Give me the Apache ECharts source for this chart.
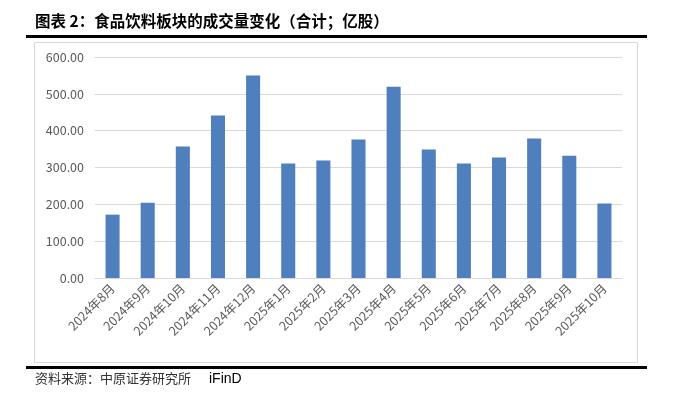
<!DOCTYPE html>
<html><head><meta charset="utf-8">
<script src="https://cdn.jsdelivr.net/npm/echarts@6/dist/echarts.min.js"></script>
<style>html,body{margin:0;padding:0;background:#fff}#c{width:682px;height:394px}</style>
</head><body><div id="c"></div>
<script>
const categories = ['2024年8月','2024年9月','2024年10月','2024年11月','2024年12月','2025年1月','2025年2月','2025年3月','2025年4月','2025年5月','2025年6月','2025年7月','2025年8月','2025年9月','2025年10月'];
const volumes = [172, 204, 357, 441, 550, 311, 319, 376, 519, 349, 311, 327, 379, 332, 202];
const yTicks = [0, 100, 200, 300, 400, 500, 600];
const titleText = '图表 2：食品饮料板块的成交量变化（合计；亿股）';
const sourceText = '资料来源：中原证券研究所';
const sourceName = 'iFinD';

const chart = echarts.init(document.getElementById('c'), null, {renderer: 'canvas'});
chart.setOption({
  animation: false,
  backgroundColor: '#fff',
  grid: {left: 95, right: 60, top: 57, bottom: 116},
  xAxis: {
    type: 'category', data: categories,
    axisLine: {lineStyle: {color: '#d9d9d9'}},
    axisTick: {show: false},
    axisLabel: {rotate: 45, color: '#595959', fontSize: 12.5, fontFamily: 'Noto Sans CJK SC', interval: 0, margin: 8}
  },
  yAxis: {
    type: 'value', min: yTicks[0], max: yTicks[yTicks.length-1], interval: 100,
    axisLine: {show: false}, axisTick: {show: false},
    splitLine: {lineStyle: {color: '#d9d9d9'}},
    axisLabel: {color: '#595959', fontSize: 12.5, fontFamily: 'Noto Sans CJK SC', margin: 11, formatter: v => v.toFixed(2)}
  },
  series: [{
    type: 'bar', data: volumes, barWidth: '40%',
    itemStyle: {color: '#4f7fbd'}
  }],
  graphic: [
    {type: 'text', left: 35, top: 13, style: {text: titleText, font: 'bold 15.5px "Noto Sans CJK SC"', fill: '#000'}},
    {type: 'rect', shape: {x: 26, y: 35, width: 621, height: 3}, style: {fill: '#000'}},
    {type: 'rect', shape: {x: 34.5, y: 42.5, width: 603, height: 320}, style: {fill: 'none', stroke: '#d9d9d9', lineWidth: 1}},
    {type: 'rect', shape: {x: 26, y: 366, width: 621, height: 3}, style: {fill: '#000'}},
    {type: 'text', left: 35, top: 372, style: {text: sourceText, font: '13px "Noto Sans CJK SC"', fill: '#333'}},
    {type: 'text', left: 209, top: 372, style: {text: sourceName, font: '14px "Liberation Sans"', fill: '#000'}}
  ]
});
</script></body></html>
